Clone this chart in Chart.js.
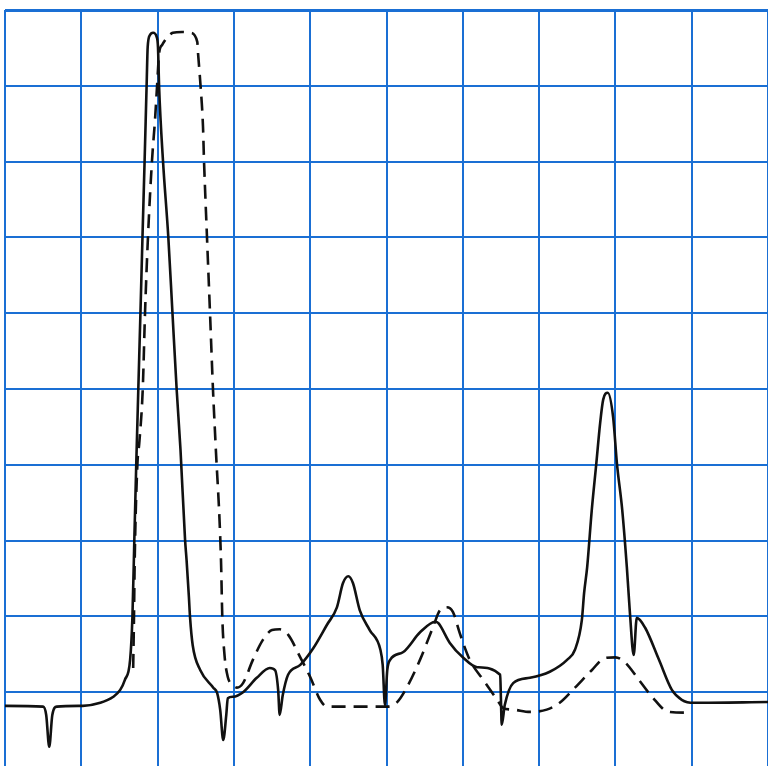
<!DOCTYPE html>
<html>
<head>
<meta charset="utf-8">
<script src="https://cdn.jsdelivr.net/npm/chart.js@4/dist/chart.umd.min.js"></script>
<style>
  body { margin: 0; background: #fff; overflow: hidden; }
  #chart { display: block; }
</style>
</head>
<body>
<canvas id="chart" width="772" height="772"></canvas>
<script>
// grid units, 0..100 on both axes (10 per cell)
const solidX = [0, 5.0, 5.4, 5.8, 6.2, 6.8, 10.2, 12.5, 14.2, 15.1, 15.7, 16.4, 16.7, 16.95, 17.2, 17.47, 17.75, 18.02, 18.3, 18.57, 18.7, 19.0, 19.4, 19.9, 20.05, 20.2, 20.7, 21.4, 21.95, 22.5, 23.0, 23.6, 23.8, 24.1, 24.25, 24.6, 25.6, 27.3, 27.8, 28.2, 28.6, 29.0, 29.2, 29.9, 31.2, 33.0, 34.7, 35.4, 35.8, 36.0, 36.4, 37.1, 38.7, 40.4, 42.2, 43.5, 44.3, 45.0, 45.6, 46.5, 47.8, 49.2, 49.5, 49.8, 50.1, 50.5, 52.2, 54.4, 56.4, 56.8, 58.3, 60.0, 61.9, 64.9, 65.0, 65.1, 65.5, 66.6, 68.8, 71.4, 73.7, 74.7, 75.6, 75.9, 76.3, 76.9, 77.5, 78.0, 78.4, 79.0, 79.7, 80.2, 80.9, 81.5, 81.9, 82.4, 82.8, 83.9, 85.7, 87.4, 88.7, 90.3, 100]
const solidY = [8.2, 8.1, 7.0, 2.8, 7.0, 8.1, 8.2, 8.6, 9.4, 10.3, 11.6, 14.3, 19.9, 30.1, 40.0, 49.9, 60.0, 70.1, 80.2, 90.4, 95.1, 96.7, 97.0, 96.4, 95.1, 89.8, 80.2, 70.1, 60.0, 49.9, 42.0, 30.1, 27.4, 22.6, 19.9, 16.2, 12.9, 10.6, 9.9, 7.7, 3.7, 7.0, 9.2, 9.4, 10.0, 11.9, 13.2, 12.9, 10.3, 7.0, 9.6, 12.3, 13.6, 15.8, 18.9, 21.2, 24.4, 25.3, 24.4, 20.8, 18.2, 15.6, 13.6, 8.3, 12.9, 14.3, 15.3, 17.9, 19.3, 19.1, 16.5, 14.6, 13.3, 12.3, 9.0, 5.7, 8.3, 11.2, 11.9, 12.7, 14.3, 15.6, 19.5, 23.1, 26.5, 34.0, 40.2, 45.5, 48.6, 49.5, 46.3, 40.2, 34.0, 26.5, 20.5, 14.9, 19.8, 18.5, 14.3, 10.3, 9.0, 8.6, 8.7]

const dashX = [16.8, 16.9, 17.0, 17.35, 17.6, 18.05, 18.35, 18.74, 19.27, 19.66, 19.92, 20.2, 20.6, 21.2, 22.0, 23.2, 24.3, 25.2, 25.3, 25.6, 25.95, 26.08, 26.47, 26.87, 27.26, 27.59, 28.31, 28.48, 28.77, 29.2, 29.8, 30.4, 31.2, 32.5, 33.8, 35.0, 36.0, 37.1, 38.7, 40.0, 41.3, 42.2, 50.1, 51.4, 52.7, 54.4, 56.1, 57.0, 57.9, 58.7, 59.6, 60.9, 62.7, 64.5, 65.3, 66.6, 68.8, 71.0, 72.7, 74.7, 76.9, 78.6, 80.0, 81.3, 83.1, 84.8, 87.0, 89.7]
const dashY = [13.2, 19.5, 27.4, 40.0, 42.9, 49.9, 60.0, 70.1, 80.2, 85.5, 89.8, 94.3, 95.4, 96.3, 97.0, 97.1, 97.0, 95.8, 94.3, 90.4, 84.6, 80.2, 70.1, 60.0, 49.9, 42.9, 27.4, 19.9, 14.9, 12.0, 11.0, 10.6, 11.2, 14.3, 16.9, 18.2, 18.3, 17.6, 14.6, 12.0, 9.0, 8.1, 8.1, 8.7, 10.7, 14.3, 18.6, 20.8, 21.2, 20.6, 17.8, 14.3, 11.6, 9.0, 7.9, 7.7, 7.4, 7.7, 8.6, 10.6, 12.9, 14.5, 14.6, 13.9, 11.6, 9.4, 7.4, 7.3]

const gridTicks = [0, 10, 20, 30, 40, 50, 60, 70, 80, 90, 100]

const toPoints = (xs, ys) => xs.map((x, i) => ({x: x, y: ys[i]}))

const gridColor = '#1a6fd4'

function makeAxis(thickAt){
  return {
    type: 'linear',
    min: 0,
    max: 100,
    afterBuildTicks: (scale) => { scale.ticks = gridTicks.map(v => ({value: v})) },
    ticks: {display: false},
    grid: {
      color: gridColor,
      lineWidth: ctx => (ctx.tick && ctx.tick.value === thickAt) ? 3 : 2,
      drawTicks: false
    },
    border: {display: false}
  }
}

new Chart(document.querySelector('#chart'), {
  type: 'scatter',
  data: {
    datasets: [
      {
        label: 'solid',
        data: toPoints(solidX, solidY),
        showLine: true,
        borderColor: '#111',
        borderWidth: 2.6,
        pointRadius: 0,
        cubicInterpolationMode: 'monotone'
      },
      {
        label: 'dashed',
        data: toPoints(dashX, dashY),
        showLine: true,
        borderColor: '#111',
        borderWidth: 2.6,
        borderDash: [14, 8],
        pointRadius: 0,
        cubicInterpolationMode: 'monotone'
      }
    ]
  },
  options: {
    responsive: false,
    animation: false,
    layout: {padding: {left: 5, top: 10, right: 4, bottom: 4}},
    plugins: {legend: {display: false}, tooltip: {enabled: false}},
    scales: {x: makeAxis(-1), y: makeAxis(100)}
  }
})
</script>
</body>
</html>
